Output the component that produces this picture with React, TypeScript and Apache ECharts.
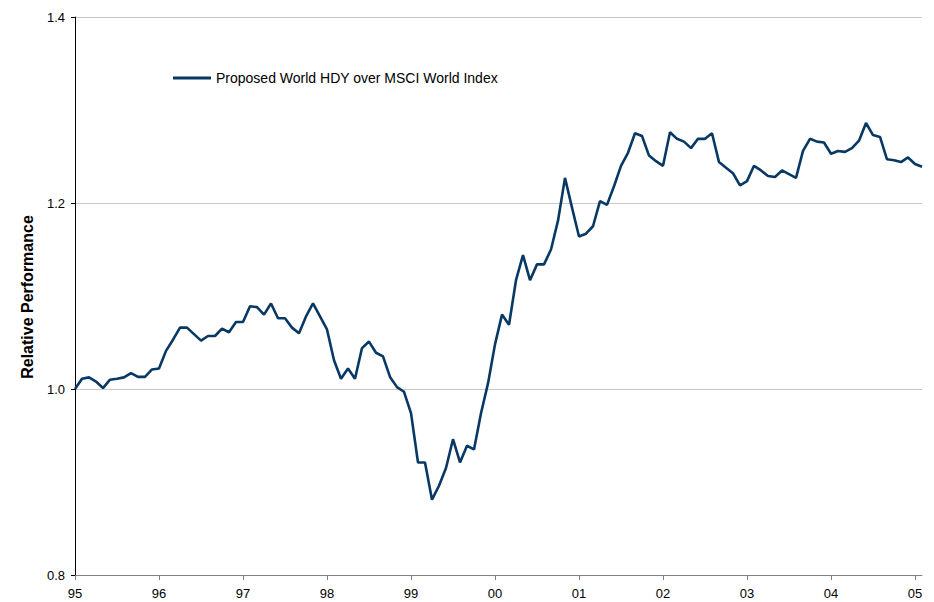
import React, { useEffect, useRef } from "react";
import * as echarts from "echarts";

// Year tick labels (one tick per January)
const yearLabels = ["95", "96", "97", "98", "99", "00", "01", "02", "03", "04", "05"];

// Monthly relative performance, Jan 1995 .. Feb 2005, one row per year
const perf1995 = [1.000, 1.011, 1.0125, 1.008, 1.001, 1.010, 1.011, 1.0125, 1.017, 1.013, 1.013, 1.021];
const perf1996 = [1.022, 1.041, 1.053, 1.066, 1.066, 1.059, 1.052, 1.057, 1.057, 1.065, 1.061, 1.072];
const perf1997 = [1.072, 1.089, 1.088, 1.080, 1.092, 1.076, 1.076, 1.066, 1.060, 1.078, 1.092, 1.078];
const perf1998 = [1.064, 1.031, 1.011, 1.022, 1.011, 1.044, 1.051, 1.039, 1.035, 1.013, 1.002, 0.997];
const perf1999 = [0.974, 0.921, 0.921, 0.881, 0.896, 0.915, 0.946, 0.921, 0.939, 0.935, 0.974, 1.006];
const perf2000 = [1.048, 1.080, 1.069, 1.117, 1.144, 1.117, 1.134, 1.134, 1.150, 1.181, 1.227, 1.195];
const perf2001 = [1.164, 1.167, 1.175, 1.202, 1.198, 1.218, 1.240, 1.254, 1.275, 1.272, 1.251, 1.245];
const perf2002 = [1.240, 1.276, 1.269, 1.266, 1.259, 1.269, 1.269, 1.275, 1.244, 1.238, 1.232, 1.219];
const perf2003 = [1.2235, 1.240, 1.235, 1.229, 1.228, 1.235, 1.231, 1.227, 1.256, 1.269, 1.266, 1.265];
const perf2004 = [1.253, 1.256, 1.255, 1.259, 1.267, 1.286, 1.273, 1.271, 1.247, 1.246, 1.244, 1.249];
const perf2005 = [1.242, 1.239];

const seriesName = "Proposed World HDY over MSCI World Index";
const yAxisTitle = "Relative Performance";

const values = [
  ...perf1995, ...perf1996, ...perf1997, ...perf1998, ...perf1999,
  ...perf2000, ...perf2001, ...perf2002, ...perf2003, ...perf2004, ...perf2005,
];

// Category for each month: "yy-m"
const categories = values.map((_, i) => `${yearLabels[Math.floor(i / 12)]}-${(i % 12) + 1}`);

const FONT = "'Liberation Sans', Arial, sans-serif";

export default function App() {
  const ref = useRef<HTMLDivElement>(null);

  useEffect(() => {
    if (!ref.current) return;
    const chart = echarts.init(ref.current, null, { renderer: "svg" });
    const isYearStart = (index: number) => index % 12 === 0;
    chart.setOption({
      animation: false,
      backgroundColor: "#ffffff",
      textStyle: { fontFamily: FONT },
      grid: { left: 75, right: 12, top: 17, bottom: 27, containLabel: false },
      legend: {
        left: 168,
        top: 66,
        icon: "rect",
        itemWidth: 38,
        itemHeight: 3,
        textStyle: { fontFamily: FONT, fontSize: 14, color: "#000" },
        data: [seriesName],
      },
      graphic: [
        {
          type: "text",
          x: 27,
          y: 297,
          rotation: Math.PI / 2,
          style: {
            text: yAxisTitle,
            font: `bold 16px ${FONT}`,
            fill: "#000",
            textAlign: "center",
            textVerticalAlign: "middle",
          },
        },
      ],
      xAxis: {
        type: "category",
        data: categories,
        boundaryGap: false,
        axisLine: { lineStyle: { color: "#808080", width: 1 } },
        axisTick: { show: true, interval: (i: number) => isYearStart(i), length: 5, lineStyle: { color: "#808080" } },
        axisLabel: {
          interval: (i: number) => isYearStart(i),
          formatter: (v: string) => v.split("-")[0],
          fontSize: 13,
          color: "#000",
          margin: 12,
          fontFamily: FONT,
        },
        splitLine: { show: false },
      },
      yAxis: {
        type: "value",
        min: 0.8,
        max: 1.4,
        interval: 0.2,
        axisLine: { show: true, lineStyle: { color: "#000", width: 1 } },
        axisTick: { show: true, length: 4, lineStyle: { color: "#000" } },
        axisLabel: {
          formatter: (v: number) => v.toFixed(1),
          fontSize: 13,
          color: "#000",
          margin: 10,
          fontFamily: FONT,
        },
        splitLine: { show: true, lineStyle: { color: "#c8c8c8", width: 1 } },
      },
      series: [
        {
          name: seriesName,
          type: "line",
          data: values,
          symbol: "none",
          showSymbol: false,
          lineStyle: { color: "#083864", width: 2.6 },
          itemStyle: { color: "#083864" },
        },
      ],
    });
    return () => chart.dispose();
  }, []);

  return (
    <div
      ref={ref}
      style={{ width: 934, height: 602, position: "absolute", left: 0, top: 0 }}
    />
  );
}
